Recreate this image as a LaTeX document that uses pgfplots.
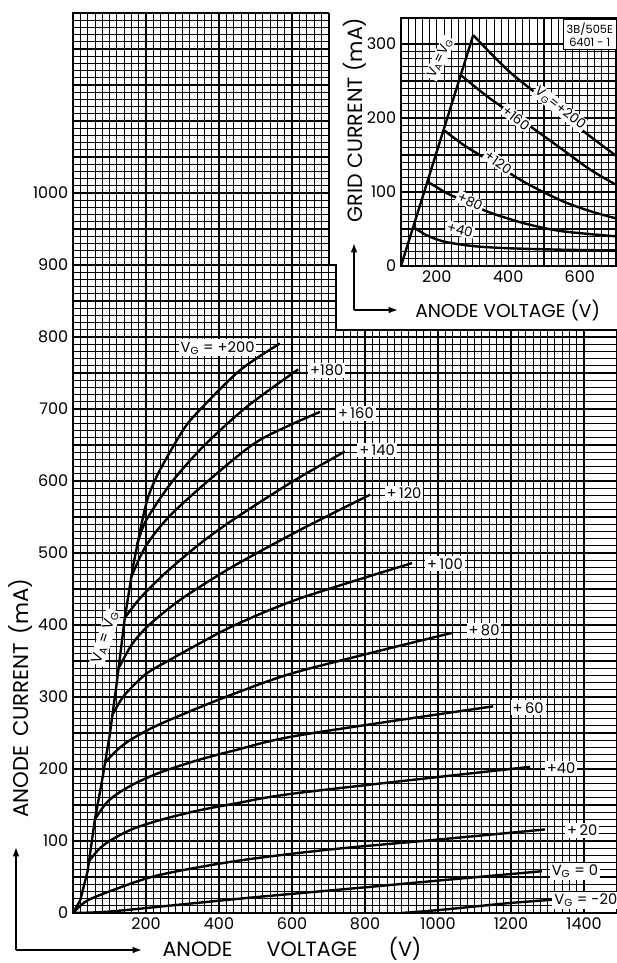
\documentclass[border=0pt]{standalone}
\usepackage{fontspec}
\setmainfont{Poppins}
\usepackage{pgfplots}
\pgfplotsset{compat=1.18}
\usetikzlibrary{arrows.meta}

\pgfplotsset{
  paper/.style={
    scale only axis, anchor=south west,
    grid=both, minor x tick num=4, minor y tick num=4,
    major grid style={black, line width=1.05pt},
    minor grid style={black, line width=0.5pt},
    axis line style={black, line width=1.5pt},
    major tick length=0pt, minor tick length=0pt,
    ticklabel style={font=\fontsize{12}{12}\selectfont},
    /pgf/number format/assume math mode=true,
  },
  curve/.style={black, line width=1.8pt, smooth, tension=0.5, no markers},
}
\tikzset{tag/.style={fill=white, inner sep=1.5pt, font=\fontsize{11}{11}\selectfont}}

\begin{document}
\begin{tikzpicture}[x=0.75pt,y=0.75pt]
\useasboundingbox (0,0) rectangle (617,963);

% main chart: anode current
\begin{axis}[paper, at={(54.75pt,37.5pt)}, width=407.9pt, height=675pt,
    xmin=0, xmax=1490, ymin=0, ymax=1250,
    xtick={0,100,...,1400},
    xticklabels={{},{},200,{},400,{},600,{},800,{},1000,{},1200,{},1400},
    ytick={0,50,...,1250},
    yticklabels={0,{},100,{},200,{},300,{},400,{},500,{},600,{},700,{},800,{},900,{},1000,{},{},{},{},{}},
  ]
  \fill[white] (axis cs:700,900) rectangle (axis cs:1600,1300);
  \fill[white] (axis cs:720,810) rectangle (axis cs:1600,901);
  \draw[line width=1.5pt] (axis cs:700,1250) -- (axis cs:700,900) -- (axis cs:720,900)
     -- (axis cs:720,810) -- (axis cs:1490,810);

  % V_A = V_G locus
  \addplot[curve, sharp plot] coordinates {(0,0) (20,18) (40,58) (60,130) (80,185) (100,245) (120,320) (142,410) (165,483) (188,541)};
  % V_G = +200 ... -20
  \addplot[curve] coordinates {(188,541) (206,578) (238,615) (302,671) (348,699) (458,754) (567,791)};
  \addplot[curve] coordinates {(176,512) (200,545) (270,598) (357,648) (476,703) (617,755)};
  \addplot[curve] coordinates {(160,467) (200,510) (266,552) (386,607) (512,657) (677,696)};
  \addplot[curve] coordinates {(142,410) (175,432) (200,446) (257,474) (348,513) (444,548) (604,600) (745,641)};
  \addplot[curve] coordinates {(125,340) (160,372) (200,396) (260,422) (320,444) (444,483) (622,532) (814,581)};
  \addplot[curve] coordinates {(108,275) (140,302) (200,332) (260,350) (320,367) (444,400) (622,437) (929,486)};
  \addplot[curve] coordinates {(88,209) (120,226) (156,240) (220,258) (320,280) (444,305) (622,336) (1038,389)};
  \addplot[curve] coordinates {(60,130) (90,152) (120,165) (170,180) (238,195) (340,212) (444,226) (622,247) (1151,287)};
  \addplot[curve] coordinates {(44,72) (70,88) (100,100) (160,116) (238,129) (340,142) (444,152) (622,167) (1252,203)};
  \addplot[curve] coordinates {(0,0) (20,10) (42,18) (100,30) (230,52) (444,72) (700,88) (1000,102) (1293,116)};
  \addplot[curve] coordinates {(0,0) (100,2) (300,12) (500,22) (786,35) (1000,45) (1285,58)};
  \addplot[curve] coordinates {(901,0) (1000,4) (1100,9) (1200,14) (1329,19)};

  \node[tag] at (axis cs:396,785) {V\textsubscript{G} = +200};
  \node[tag] at (axis cs:695,754) {+180};
  \node[tag] at (axis cs:775,694) {+\,160};
  \node[tag] at (axis cs:833,643) {+\,140};
  \node[tag] at (axis cs:907,583) {+\,120};
  \node[tag] at (axis cs:1019,485) {+\,100};
  \node[tag] at (axis cs:1126,392) {+\,80};
  \node[tag] at (axis cs:1247,285) {+\,60};
  \node[tag] at (axis cs:1337,201) {+40};
  \node[tag] at (axis cs:1395,115) {+\,20};
  \node[tag] at (axis cs:1375,58) {V\textsubscript{G} = 0};
  \node[tag] at (axis cs:1405,18) {V\textsubscript{G} = -20};
  \node[tag, rotate=72, inner sep=1pt] at (axis cs:88,383) {V\textsubscript{A} = V\textsubscript{G}};
\end{axis}

% inset: grid current
\begin{axis}[paper, at={(300.75pt,522.75pt)}, width=161.95pt, height=185.9pt,
    xmin=100, xmax=704, ymin=0, ymax=335,
    xtick={100,200,...,700},
    xticklabels={{},200,{},400,{},600,{}},
    ytick={0,50,...,300},
    yticklabels={0,{},100,{},200,{},300},
  ]
  \addplot[curve, sharp plot] coordinates {(100,0) (302,312)};
  \addplot[curve] coordinates {(302,312) (400,264) (500,225) (600,186) (704,148)};
  \addplot[curve] coordinates {(267,258) (350,226) (452,192) (550,158) (630,130) (704,109)};
  \addplot[curve] coordinates {(219,184) (280,162) (369,136) (450,112) (550,88) (630,74) (704,64)};
  \addplot[curve] coordinates {(174,114) (230,98) (285,86) (350,72) (450,57) (550,47) (704,40)};
  \addplot[curve] coordinates {(134,53) (170,42) (220,33) (300,27) (400,24) (550,22) (704,21)};

  \node[tag, rotate=65, inner sep=1pt, font=\fontsize{10}{10}\selectfont] at (axis cs:209,281) {V\textsubscript{A}=V\textsubscript{G}};
  \node[tag, rotate=-38, inner sep=1pt, font=\fontsize{10}{10}\selectfont] at (axis cs:545,213) {V\textsubscript{G}=+200};
  \node[tag, rotate=-38, inner sep=1pt, font=\fontsize{10}{10}\selectfont] at (axis cs:422,200) {+160};
  \node[tag, rotate=-35, inner sep=1pt, font=\fontsize{10}{10}\selectfont] at (axis cs:372,140) {+120};
  \node[tag, rotate=-25, inner sep=1pt, font=\fontsize{10}{10}\selectfont] at (axis cs:293,87) {+80};
  \node[tag, rotate=-15, inner sep=1pt, font=\fontsize{10}{10}\selectfont] at (axis cs:265,49) {+40};
  \node[draw, line width=1pt, fill=white, align=center, inner sep=2.5pt,
        font=\fontsize{8.5}{9.5}\selectfont] at (axis cs:628,313) {3B/505E\\6401 - 1};
\end{axis}

% axis titles and arrows
\draw[line width=1.1pt, -{Latex[length=7pt,width=5pt]}] (16,13) -- (16,116);
\draw[line width=1.1pt, -{Latex[length=7pt,width=5pt]}] (16,13) -- (142,13);
\node[rotate=90, font=\fontsize{16}{16}\selectfont] at (21,265) {ANODE\hspace{0.4em}CURRENT\hspace{0.4em}(mA)};
\node[anchor=base, font=\fontsize{15.5}{15.5}\selectfont] at (197.5,7) {ANODE};
\node[anchor=base, font=\fontsize{15.5}{15.5}\selectfont] at (312,7) {VOLTAGE};
\node[anchor=base, font=\fontsize{15.5}{15.5}\selectfont] at (405,7) {(V)};

\draw[line width=1.1pt, -{Latex[length=7pt,width=5pt]}] (354,653) -- (354,720);
\draw[line width=1.1pt, -{Latex[length=7pt,width=5pt]}] (354,653) -- (398,653);
\node[rotate=90, font=\fontsize{15.5}{15.5}\selectfont] at (355,843) {GRID CURRENT (mA)};
\node[anchor=base west, inner sep=0pt, font=\fontsize{14}{14}\selectfont] at (415,645) {ANODE VOLTAGE (V)};
\end{tikzpicture}
\end{document}
